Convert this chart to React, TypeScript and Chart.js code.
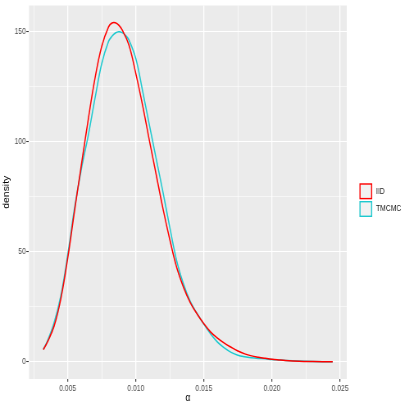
import React, { useEffect, useRef } from 'react';
import { Chart, registerables } from 'chart.js';

Chart.register(...registerables);

// ---- data ----
const seriesNames = ['IID', 'TMCMC'];
const seriesColors = ['#FF0000', '#1DC9CF'];

const iidX = [0.00321, 0.0035, 0.004, 0.0045, 0.005, 0.0055, 0.006, 0.0065, 0.007, 0.0075, 0.008, 0.00825, 0.0085, 0.00875, 0.009, 0.0095, 0.01, 0.0105, 0.011, 0.0115, 0.012, 0.0125, 0.013, 0.0135, 0.014, 0.0145, 0.015, 0.0155, 0.016, 0.0165, 0.017, 0.0175, 0.018, 0.0185, 0.019, 0.0195, 0.02, 0.0205, 0.021, 0.022, 0.023, 0.02446];
const iidY = [5.6, 8.9, 16.3, 28.8, 47, 68.5, 89.3, 109.7, 128.6, 143.3, 152.1, 153.86, 153.98, 152.9, 150.7, 143.8, 131, 116.5, 100.5, 85, 69.5, 55.5, 43, 34, 27, 21.8, 17.4, 13.6, 10.9, 8.6, 6.7, 5.0, 3.7, 2.8, 2.2, 1.7, 1.25, 0.95, 0.7, 0.4, 0.25, 0.1];

const tmcmcX = [0.00321, 0.0035, 0.004, 0.0045, 0.005, 0.0055, 0.006, 0.0065, 0.007, 0.0075, 0.008, 0.00825, 0.0085, 0.00875, 0.009, 0.00925, 0.0095, 0.01, 0.0105, 0.011, 0.0115, 0.012, 0.0125, 0.013, 0.0135, 0.014, 0.0145, 0.015, 0.0155, 0.016, 0.0165, 0.017, 0.0175, 0.018, 0.0185, 0.019, 0.0195, 0.02, 0.0205, 0.021, 0.022, 0.023, 0.02446];
const tmcmcY = [5.8, 9.4, 17.8, 30.2, 48.6, 69.8, 87.5, 102.5, 119.5, 135.5, 145.5, 147.8, 149.3, 149.9, 149.5, 148.2, 146.1, 137.8, 123, 107.5, 92.2, 77, 61, 46, 35.5, 27.5, 22, 17.1, 12.7, 9.0, 6.4, 4.4, 3.1, 2.4, 1.95, 1.65, 1.45, 1.15, 0.95, 0.75, 0.45, 0.25, 0.1];

const xMajorTicks = [0.005, 0.01, 0.015, 0.02, 0.025];
const xMinorTicks = [0.0025, 0.0075, 0.0125, 0.0175, 0.0225];
const yMajorTicks = [0, 50, 100, 150];
const yMinorTicks = [25, 75, 125];

const xTitle = 'α';
const yTitle = 'density';

const SANS = "'Liberation Sans', Arial, Helvetica, sans-serif";

// the reference is squeezed horizontally; draw wider and compress with CSS
const OUT = 409;
const INNER_W = 499;
const SX = OUT / INNER_W;

const isMajor = (v: number, majors: number[]) => majors.some((m) => Math.abs(m - v) < 1e-9);

const panelBg = {
  id: 'panelBg',
  beforeDraw(chart: any) {
    const { ctx, chartArea } = chart;
    ctx.save();
    ctx.fillStyle = '#EBEBEB';
    ctx.fillRect(chartArea.left, chartArea.top, chartArea.right - chartArea.left, chartArea.bottom - chartArea.top);
    ctx.restore();
  },
};

const ggLegend = {
  id: 'ggLegend',
  afterDraw(chart: any) {
    const { ctx } = chart;
    ctx.save();
    const x0 = 438.5;
    const w = 15.6;
    const h = 16;
    const tops = [183.3, 201];
    seriesNames.forEach((name, i) => {
      const y0 = tops[i];
      ctx.fillStyle = '#F2F2F2';
      ctx.fillRect(x0, y0, w, h);
      ctx.strokeStyle = seriesColors[i];
      ctx.lineWidth = 1.4;
      ctx.strokeRect(x0 + 0.7, y0 + 0.7, w - 1.4, h - 1.4);
      ctx.fillStyle = '#1A1A1A';
      ctx.font = `8.3px ${SANS}`;
      ctx.textBaseline = 'middle';
      ctx.textAlign = 'left';
      ctx.fillText(name, 458.7, y0 + h / 2);
    });
    ctx.restore();
  },
};

export default function App() {
  const canvasRef = useRef<HTMLCanvasElement | null>(null);

  useEffect(() => {
    if (!canvasRef.current) return;
    const chart = new Chart(canvasRef.current, {
      type: 'line',
      data: {
        datasets: [
          {
            label: seriesNames[0],
            data: iidX.map((x, i) => ({ x, y: iidY[i] })),
            borderColor: seriesColors[0],
            borderWidth: 1.5,
            pointRadius: 0,
            fill: false,
            tension: 0.4,
          },
          {
            label: seriesNames[1],
            data: tmcmcX.map((x, i) => ({ x, y: tmcmcY[i] })),
            borderColor: seriesColors[1],
            borderWidth: 1.5,
            pointRadius: 0,
            fill: false,
            tension: 0.4,
          },
        ],
      },
      options: {
        animation: false,
        responsive: false,
        devicePixelRatio: 1,
        layout: { padding: { left: 0, top: 5, right: 76, bottom: 0 } },
        plugins: {
          legend: { display: false },
          tooltip: { enabled: false },
        },
        scales: {
          x: {
            type: 'linear',
            min: 0.00216,
            max: 0.02549,
            afterBuildTicks: (scale: any) => {
              scale.ticks = [...xMinorTicks, ...xMajorTicks].sort((a, b) => a - b).map((v) => ({ value: v }));
            },
            afterFit: (scale: any) => {
              scale.height = 30;
            },
            border: { display: false },
            grid: {
              color: '#FFFFFF',
              lineWidth: (ctx: any) => (isMajor(ctx.tick?.value, xMajorTicks) ? 1.3 : 0.65),
              tickColor: (ctx: any) => (isMajor(ctx.tick?.value, xMajorTicks) ? '#333333' : 'rgba(0,0,0,0)'),
              tickLength: 2.7,
              tickWidth: 1.1,
            },
            ticks: {
              autoSkip: false,
              maxRotation: 0,
              padding: 2,
              color: '#4D4D4D',
              font: { family: SANS, size: 8.3 },
              callback: (v: any) => (isMajor(Number(v), xMajorTicks) ? Number(v).toFixed(3) : ''),
            },
            title: {
              display: true,
              text: xTitle,
              color: '#000000',
              font: { family: SANS, size: 10.4 },
              padding: { top: 0, bottom: 5 },
            },
          },
          y: {
            type: 'linear',
            min: -7.7,
            max: 161.8,
            afterBuildTicks: (scale: any) => {
              scale.ticks = [...yMinorTicks, ...yMajorTicks].sort((a, b) => a - b).map((v) => ({ value: v }));
            },
            afterFit: (scale: any) => {
              scale.width = 35.4;
            },
            border: { display: false },
            grid: {
              color: '#FFFFFF',
              lineWidth: (ctx: any) => (isMajor(ctx.tick?.value, yMajorTicks) ? 1.1 : 0.55),
              tickColor: (ctx: any) => (isMajor(ctx.tick?.value, yMajorTicks) ? '#333333' : 'rgba(0,0,0,0)'),
              tickLength: 3.3,
              tickWidth: 1,
            },
            ticks: {
              autoSkip: false,
              padding: 0.5,
              color: '#4D4D4D',
              font: { family: SANS, size: 8.3 },
              callback: (v: any) => (isMajor(Number(v), yMajorTicks) ? String(Number(v)) : ''),
            },
            title: {
              display: true,
              text: yTitle,
              color: '#000000',
              font: { family: SANS, size: 10.4 },
              padding: { top: 2.3, bottom: 0 },
            },
          },
        },
      },
      plugins: [panelBg, ggLegend],
    } as any);
    return () => chart.destroy();
  }, []);

  return (
    <div style={{ position: 'absolute', left: 0, top: 0, width: OUT, height: OUT, overflow: 'hidden', background: '#FFFFFF' }}>
      <div style={{ width: INNER_W, height: OUT, transform: `scaleX(${SX})`, transformOrigin: '0 0' }}>
        <canvas ref={canvasRef} width={INNER_W} height={OUT} style={{ display: 'block', width: INNER_W, height: OUT }} />
      </div>
    </div>
  );
}
